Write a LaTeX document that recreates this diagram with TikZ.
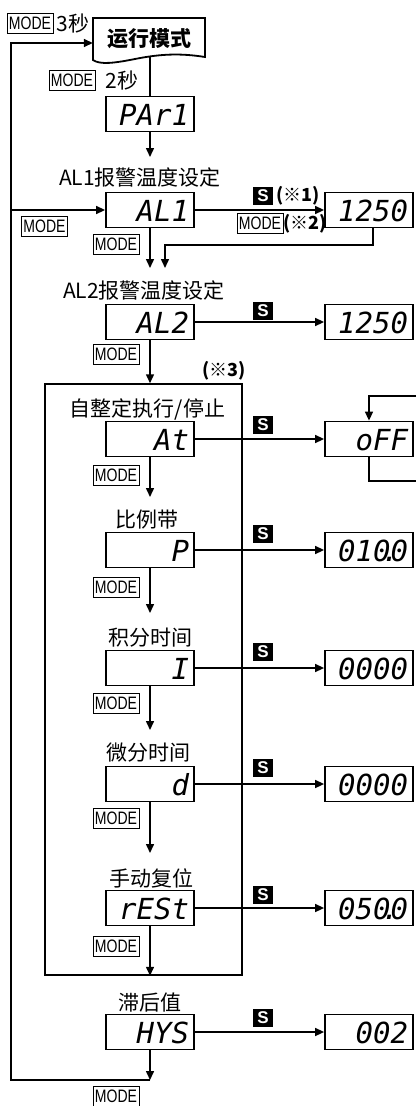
\documentclass[tikz,border=0pt]{standalone}
\usepackage{fontspec}
\setmainfont{Noto Sans CJK SC}
\newfontfamily\segfont{DejaVu Sans Mono}
\newfontfamily\modefont{Liberation Sans}[FakeStretch=0.78]
\newfontfamily\sfont{Liberation Sans}
\usetikzlibrary{arrows.meta}
\begin{document}
\begin{tikzpicture}[x=1pt,y=-1pt,
  disp/.style={draw, line width=1.8pt, minimum width=88pt, minimum height=35pt,
    text width=78pt, align=right, inner xsep=5pt, inner ysep=0pt,
    text height=22pt, text depth=0pt, font=\segfont\itshape\fontsize{29}{29}\selectfont},
  modebox/.style={draw, line width=1pt, minimum width=46pt, minimum height=20pt,
    inner sep=0pt, font=\modefont\fontsize{18}{18}\selectfont},
  sbox/.style={fill=black, text=white, minimum width=20pt, minimum height=18pt,
    inner sep=0pt, font=\sfont\bfseries\fontsize{17}{17}\selectfont},
  bnote/.style={inner sep=0pt, font=\bfseries\fontsize{18}{18}\selectfont},
  txt/.style={inner sep=0pt, font=\fontsize{21}{21}\selectfont},
  runtext/.style={minimum width=112pt, minimum height=42pt, inner sep=0pt,
    font=\bfseries\fontsize{21}{21}\selectfont},
  grpbox/.style={draw, line width=1.5pt, minimum width=197pt, minimum height=591pt, inner sep=0pt},
  boxline/.style={line width=1.8pt, line join=miter},
  conn/.style={line width=1.5pt},
  arr/.style={line width=1.5pt, -{Triangle[length=9pt,width=8pt]}}
]
\useasboundingbox (0,0) rectangle (416,1106);

% run mode box
\node[runtext] (run) at (149,39) {运行模式};
\draw[boxline] (93,60) -- (93,18) -- (205,18) -- (205,57)
  .. controls (180,53) and (160,54) .. (135,59)
  .. controls (115,63) and (100,65) .. (93,60) -- cycle;
\node[modebox] (m0) at (30,23) {MODE};
\node[txt] (s3) at (73,23) {3秒};
\coordinate (runbot) at (150,57);

\node[disp] (par) at (150,114) {PAr1};
\draw[conn] (runbot) -- (par.north);
\node[modebox] (m1) at (72,80.5) {MODE};
\node[txt] (s2) at (122,80) {2秒};

% AL1
\node[txt] (l1) at (140,177) {AL1报警温度设定};
\coordinate (p1) at (150,157);
\draw[arr] (par.south) -- (p1);
\node[disp] (al1) at (150,210) {AL1};
\node[disp] (v1) at (369,210) {1250};
\draw[arr] (al1.east) -- (v1.west);
\node[sbox] (sa1) at (263,196) {S};
\node[bnote] (n1) at (298,196) {(※1)};
\node[modebox] (m2) at (260,223.5) {MODE};
\node[bnote] (n2) at (305,223.5) {(※2)};
\coordinate (f1) at (165,268);
\draw[arr] ([xshift=4pt]v1.south) -- (373,245) -- (165,245) -- (f1);
\node[modebox] (m3) at (44.5,226.5) {MODE};
\node[modebox] (m4) at (116,244.5) {MODE};
\coordinate (p2) at (150,268);
\draw[arr] (al1.south) -- (p2);

% AL2
\node[txt] (l2) at (144,290) {AL2报警温度设定};
\node[disp] (al2) at (150,322) {AL2};
\node[disp] (v2) at (369,322) {1250};
\draw[arr] (al2.east) -- (v2.west);
\node[sbox] (sa2) at (263,311) {S};
\node[modebox] (m5) at (116,354) {MODE};
\node[grpbox] (grp) at (143.5,679.5) {};
\draw[arr] (al2.south) -- (al2.south |- grp.north);
\node[bnote] (n3) at (224,371) {(※3)};

% At
\node[txt] (l3) at (147.5,409) {自整定执行/停止};
\node[disp] (at) at (150,439) {At};
\node[disp] (off) at (369,439) {oFF};
\draw[arr] (at.east) -- (off.west);
\node[sbox] (sa3) at (263,425) {S};
\coordinate (o1) at (416,396);
\coordinate (o2) at (416,481);
\draw[arr] (o1) -- (o1 -| off.north) -- (off.north);
\draw[conn] (off.south) -- (off.south |- o2) -- (o2);
\node[modebox] (m6) at (116,475) {MODE};
\coordinate (p3) at (150,497);
\draw[arr] (at.south) -- (p3);

% P
\node[txt] (l4) at (146.5,520) {比例带};
\node[disp] (pp) at (150,550) {P};
\node[disp] (v4) at (369,550) {010\makebox[0pt]{.}0};
\draw[arr] (pp.east) -- (v4.west);
\node[sbox] (sa4) at (263,534) {S};
\node[modebox] (m7) at (116,587.5) {MODE};
\coordinate (p4) at (150,613);
\draw[arr] (pp.south) -- (p4);

% I
\node[txt] (l5) at (150,638) {积分时间};
\node[disp] (ii) at (150,668) {I};
\node[disp] (v5) at (369,668) {0000};
\draw[arr] (ii.east) -- (v5.west);
\node[sbox] (sa5) at (263,652) {S};
\node[modebox] (m8) at (116,703.5) {MODE};
\coordinate (p5) at (150,730);
\draw[arr] (ii.south) -- (p5);

% d
\node[txt] (l6) at (148.5,753) {微分时间};
\node[disp] (dd) at (150,784) {d};
\node[disp] (v6) at (369,784) {0000};
\draw[arr] (dd.east) -- (v6.west);
\node[sbox] (sa6) at (263,768) {S};
\node[modebox] (m9) at (116,818.5) {MODE};
\coordinate (p6) at (150,853);
\draw[arr] (dd.south) -- (p6);

% rESt
\node[txt] (l7) at (151.5,878) {手动复位};
\node[disp] (rs) at (150,908) {rESt};
\node[disp] (v7) at (369,908) {050\makebox[0pt]{.}0};
\draw[arr] (rs.east) -- (v7.west);
\node[sbox] (sa7) at (263,895) {S};
\node[modebox] (m10) at (116,946) {MODE};
\draw[arr] (rs.south) -- (rs.south |- grp.south);

% HYS
\node[txt] (l8) at (150,1003) {滞后值};
\node[disp] (hy) at (150,1032) {HYS};
\node[disp] (v8) at (369,1032) {002};
\draw[arr] (hy.east) -- (v8.west);
\node[sbox] (sa8) at (263,1018) {S};
\coordinate (bl) at (150,1080);
\draw[arr] (hy.south) -- (bl);
\node[modebox] (m11) at (116,1096) {MODE};

% main loop
\coordinate (lt) at (11,43);
\draw[arr] (bl) -- (11,1080) -- (lt) -- (lt -| run.west);
\coordinate (lb) at (11,210);
\draw[arr] (lb) -- (al1.west);
\end{tikzpicture}
\end{document}
